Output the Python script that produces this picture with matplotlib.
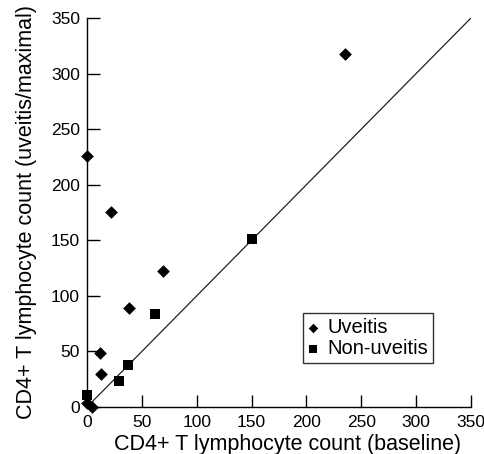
import matplotlib
matplotlib.use("Agg")
import matplotlib.pyplot as plt

plt.rcParams["font.family"] = ["Liberation Sans", "DejaVu Sans"]

# ── Data ──────────────────────────────────────────────────────────────────────
uveitis_x = [0, 22, 235, 69, 38, 12, 13, 0, 5]
uveitis_y = [226, 175, 318, 122, 89, 49, 30, 4, 0]

non_uveitis_x = [150, 62, 37, 29, 0]
non_uveitis_y = [151, 84, 38, 23, 11]

ticks = [0, 50, 100, 150, 200, 250, 300, 350]
identity = [0, 350]

# ── Plot ──────────────────────────────────────────────────────────────────────
fig = plt.figure(figsize=(4.85, 4.54), dpi=100)
ax = fig.add_axes([0.1794, 0.1035, 0.7918, 0.857])

ax.plot(identity, identity, color="#222222", lw=0.9, zorder=1)
ax.scatter(uveitis_x, uveitis_y, marker="D", s=42, color="black",
           lw=0, label="Uveitis", zorder=3, clip_on=False)
ax.scatter(non_uveitis_x, non_uveitis_y, marker="s", s=48, color="black",
           lw=0, label="Non-uveitis", zorder=3, clip_on=False)

ax.set_xlim(0, 350)
ax.set_ylim(0, 350)
ax.set_xticks(ticks)
ax.set_yticks(ticks)
ax.spines["top"].set_visible(False)
ax.spines["right"].set_visible(False)
for s in ("left", "bottom"):
    ax.spines[s].set_linewidth(1.0)
ax.tick_params(direction="in", length=9, width=1.0, labelsize=12.5)
ax.tick_params(axis="x", pad=6)
ax.tick_params(axis="y", pad=5)

ax.set_xlabel("CD4+ T lymphocyte count (baseline)", fontsize=15.5)
ax.xaxis.set_label_coords(0.523, -0.0694)
ax.set_ylabel("CD4+ T lymphocyte count (uveitis/maximal)", fontsize=15.5, labelpad=10)

leg = ax.legend(loc="upper left", bbox_to_anchor=(0.5625, 0.2416),
                fontsize=14.5, frameon=True, fancybox=False, handlelength=0.5,
                handletextpad=0.45, borderpad=0.25, labelspacing=0.1,
                borderaxespad=0, markerscale=0.75)
leg.get_frame().set_edgecolor("black")
leg.get_frame().set_linewidth(1.0)

plt.savefig("out.png", dpi=100)
